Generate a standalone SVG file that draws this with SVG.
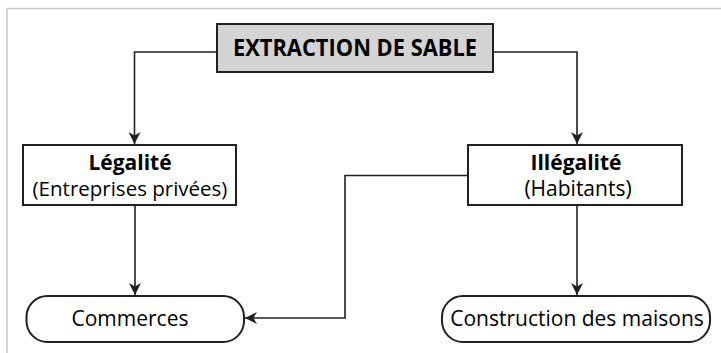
<svg xmlns="http://www.w3.org/2000/svg" width="721" height="353" viewBox="0 0 721 353">
<style>
.box{fill:#ffffff;stroke:#231f20;stroke-width:2}
.top{fill:#d4d4d4;stroke:#231f20;stroke-width:2}
.t{font-family:"Open Sans","Liberation Sans",sans-serif;fill:#000;text-anchor:middle}
.b{font-weight:bold}
.c{fill:none;stroke:#231f20;stroke-width:1.6}
</style>
<defs>
<marker id="ahb" viewBox="0 0 10 10" refX="10" refY="5" markerWidth="12" markerHeight="12" markerUnits="userSpaceOnUse" orient="auto">
<path d="M0,0 L10,5 L0,10 L3,5 z" fill="#231f20"/>
</marker>
</defs>
<rect x="7" y="8.5" width="730" height="360" fill="none" stroke="#c8c8c8" stroke-width="1.5"/>
<g id="connectors">
<path class="c" d="M217,52 H134.5 V144" marker-end="url(#ahb)"/>
<path class="c" d="M493,52 H577 V144" marker-end="url(#ahb)"/>
<path class="c" d="M135,205 V295" marker-end="url(#ahb)"/>
<path class="c" d="M577,205 V295" marker-end="url(#ahb)"/>
<path class="c" d="M468,175.5 H345 V318 H245" marker-end="url(#ahb)"/>
</g>
<g id="extraction">
<rect class="top" x="217" y="24" width="276" height="48"/>
<text class="t b" x="355" y="56" font-size="23" font-family="Liberation Sans" textLength="244" lengthAdjust="spacingAndGlyphs">EXTRACTION DE SABLE</text>
</g>
<g id="legalite">
<rect class="box" x="23" y="145" width="213" height="60"/>
<text class="t b" x="130" y="170" font-size="21">Légalité</text>
<text class="t" x="130" y="196" font-size="20.5">(Entreprises privées)</text>
</g>
<g id="illegalite">
<rect class="box" x="468" y="145" width="214" height="60"/>
<text class="t b" x="576" y="170" font-size="21">Illégalité</text>
<text class="t" x="578" y="196" font-size="21">(Habitants)</text>
</g>
<g id="commerces">
<rect class="box" x="26.5" y="296" width="217.5" height="46" rx="21" ry="21"/>
<text class="t" x="130" y="326" font-size="21">Commerces</text>
</g>
<g id="construction">
<rect class="box" x="442" y="296" width="268" height="46" rx="21" ry="21"/>
<text class="t" x="577" y="326" font-size="21">Construction des maisons</text>
</g>
</svg>
